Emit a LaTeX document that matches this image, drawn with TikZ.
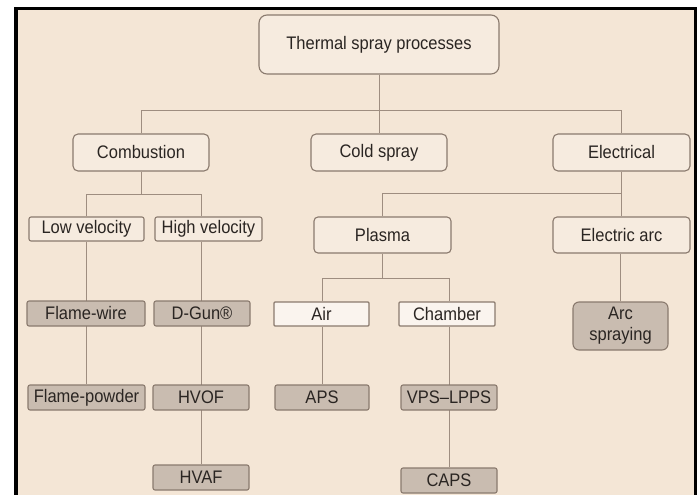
\documentclass[tikz,border=0pt]{standalone}
\usepackage{fontspec}
\setmainfont{Liberation Sans}
\usetikzlibrary{calc}
\pgfdeclarelayer{back}
\pgfdeclarelayer{lines}
\pgfsetlayers{back,lines,main}
\definecolor{bgc}{HTML}{F4E6D6}
\definecolor{lightc}{HTML}{F6EBDF}
\definecolor{whitec}{HTML}{FAF4EE}
\definecolor{grayc}{HTML}{C9BCB0}
\definecolor{bordc}{HTML}{8A7A6E}
\definecolor{linec}{HTML}{9E8D80}
\definecolor{txtc}{HTML}{2A2522}
\newcommand{\tallt}[1]{\scalebox{1}[1.1]{#1}}
\tikzset{
  box/.style={draw=bordc, line width=1.1pt, fill=lightc, inner sep=0pt, text=txtc,
    font=\fontsize{16.5}{21}\selectfont, align=center},
  bigbox/.style={box, rounded corners=5pt, minimum height=37pt},
  midbox/.style={box, rounded corners=2pt, minimum height=24pt},
  whbox/.style={box, fill=whitec, rounded corners=1pt, minimum height=24pt},
  graybox/.style={box, fill=grayc, rounded corners=2pt, minimum height=25pt},
  conn/.style={draw=linec, line width=1pt},
}
\begin{document}
\begin{tikzpicture}[x=1pt, y=-1pt]
\useasboundingbox (0,0) rectangle (700,495);
% nodes
\node[box, rounded corners=8pt, minimum width=240pt, minimum height=59pt] (top) at (379,44.5) {\tallt{Thermal spray processes}};
\node[bigbox, minimum width=136pt] (comb) at (141,152.5) {\tallt{Combustion}};
\node[bigbox, minimum width=136pt] (cold) at (379,152.5) {\tallt{Cold spray}};
\node[bigbox, minimum width=137pt] (elec) at (621.5,152.5) {\tallt{Electrical}};
\node[midbox, minimum width=115pt] (low) at (86.5,229) {\tallt{Low velocity}};
\node[midbox, minimum width=107pt] (high) at (208.5,229) {\tallt{High velocity}};
\node[bigbox, rounded corners=4pt, minimum width=137pt, minimum height=36pt] (plasma) at (382.5,235) {\tallt{Plasma}};
\node[bigbox, rounded corners=4pt, minimum width=137pt, minimum height=36pt] (earc) at (621.5,235) {\tallt{Electric arc}};
\node[whbox, minimum width=95pt] (air) at (321.5,314) {\tallt{Air}};
\node[whbox, minimum width=96pt] (chamber) at (447,314) {\tallt{Chamber}};
\node[graybox, minimum width=118pt] (fwire) at (86,313.5) {\tallt{Flame-wire}};
\node[graybox, minimum width=96pt] (dgun) at (202,313.5) {\tallt{D-Gun®}};
\node[graybox, rounded corners=6pt, minimum width=95pt, minimum height=48pt] (arcs) at (620.5,326) {\tallt{Arc}\\\tallt{spraying}};
\node[graybox, minimum width=117pt] (fpowder) at (86.5,397.5) {\tallt{Flame-powder}};
\node[graybox, minimum width=96pt] (hvof) at (201,397.5) {\tallt{HVOF}};
\node[graybox, minimum width=94pt] (aps) at (322,397.5) {\tallt{APS}};
\node[graybox, minimum width=96pt] (vps) at (449,397.5) {\tallt{VPS–LPPS}};
\node[graybox, minimum width=96pt] (hvaf) at (201,477.5) {\tallt{HVAF}};
\node[graybox, minimum width=96pt] (caps) at (449,480.5) {\tallt{CAPS}};
\coordinate (ya) at (0,110);
\coordinate (yb) at (0,194);
\coordinate (yc) at (0,193);
\coordinate (yd) at (0,278);
% connectors
\begin{pgfonlayer}{lines}
\draw[conn] (top.south) -- (cold.north);
\draw[conn] (comb.north) -- (comb.north |- ya) -- (elec.north |- ya) -- (elec.north);
\draw[conn] (comb.south) -- (comb.south |- yb);
\draw[conn] (fpowder.north |- low.north) -- (fpowder.north |- yb) -- (hvaf.north |- yb) -- (hvaf.north |- high.north);
\draw[conn] (fpowder.north) -- (fpowder.north |- low.south);
\draw[conn] (hvaf.north) -- (hvaf.north |- high.south);
\draw[conn] (elec.south) -- (earc.north);
\draw[conn] (plasma.north) -- (plasma.north |- yc) -- (elec.south |- yc);
\draw[conn] (plasma.south) -- (plasma.south |- yd);
\draw[conn] (aps.north |- air.north) -- (aps.north |- yd) -- (caps.north |- yd) -- (caps.north |- chamber.north);
\draw[conn] (aps.north) -- (aps.north |- air.south);
\draw[conn] (caps.north) -- (caps.north |- chamber.south);
\draw[conn] (arcs.north) -- (arcs.north |- earc.south);
\end{pgfonlayer}
% frame
\begin{pgfonlayer}{back}
\fill[white] (0,0) rectangle (700,495);
\fill[bgc] (16,9) rectangle (695,495);
\fill[black] (14,7) rectangle (17.5,495);
\fill[black] (14,7) rectangle (697,10);
\fill[black] (694,7) rectangle (697,495);
\end{pgfonlayer}
\end{tikzpicture}
\end{document}
